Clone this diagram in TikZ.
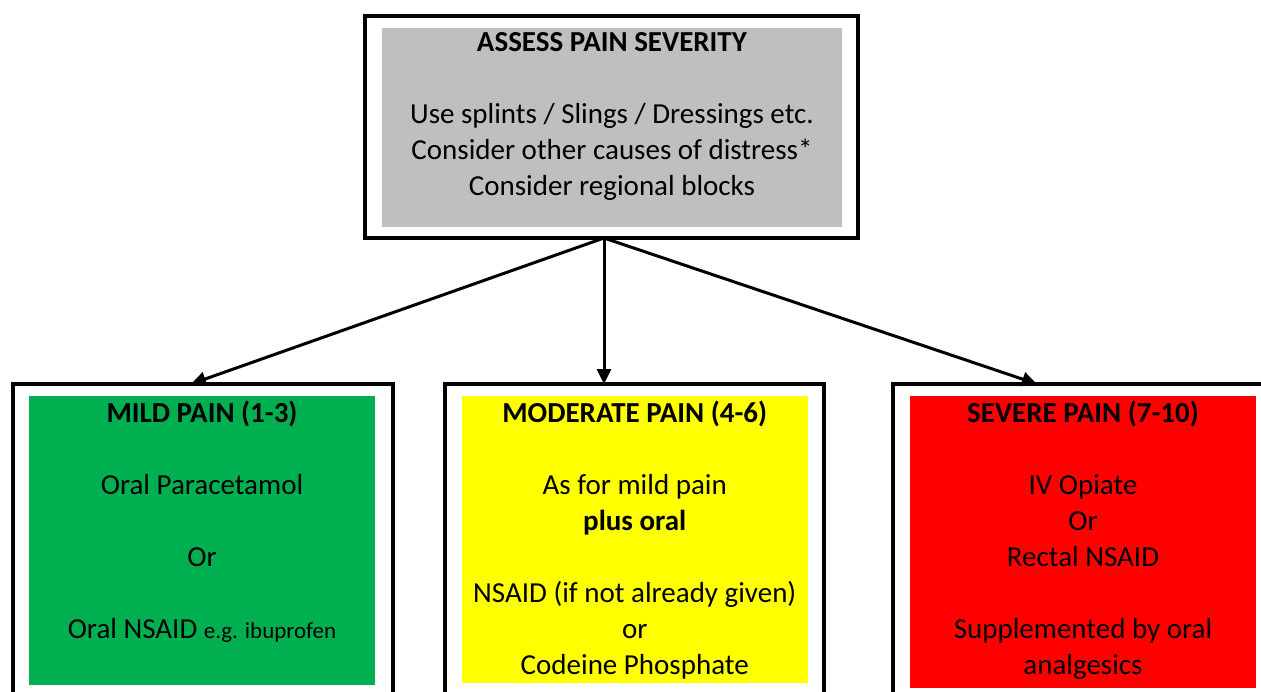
\documentclass[tikz,border=0pt]{standalone}
\usepackage{fontspec}
\setmainfont{Carlito}
\usetikzlibrary{arrows.meta}
\definecolor{boxgray}{RGB}{191,191,191}
\definecolor{mildgreen}{RGB}{0,176,80}
\definecolor{modyellow}{RGB}{255,255,0}
\definecolor{sevred}{RGB}{255,0,0}
\begin{document}
\begin{tikzpicture}[x=1pt,y=-1pt,
  outerbox/.style={draw=black,line width=4pt,fill=white,inner sep=0pt,outer sep=0pt},
  innerbox/.style={inner sep=0pt,outer sep=0pt,anchor=north west},
  txt/.style={align=center,inner sep=0pt,anchor=base,font=\fontsize{29}{36}\selectfont},
  conn/.style={line width=3pt,-{Triangle[length=15pt,width=14pt]}},
]
\clip (0,0) rectangle (1261,691);
\fill[white] (0,0) rectangle (1261,691);

% boxes
\node[outerbox,minimum width=493pt,minimum height=222pt] (assess) at (611.5,127) {};
\node[innerbox,fill=boxgray,minimum width=460pt,minimum height=198.7pt] (assessin) at (382,28) {};

\node[outerbox,minimum width=380pt,minimum height=314pt] (mild) at (202.7,541) {};
\node[innerbox,fill=mildgreen,minimum width=346pt,minimum height=289pt] (mildin) at (29,396) {};

\node[outerbox,minimum width=379.3pt,minimum height=314pt] (moderate) at (634.35,541) {};
\node[innerbox,fill=modyellow,minimum width=345.5pt,minimum height=287pt] (moderatein) at (462,396) {};

\node[outerbox,minimum width=380pt,minimum height=314pt] (severe) at (1082.7,541) {};
\node[innerbox,fill=sevred,minimum width=346pt,minimum height=292pt] (severein) at (910,396) {};

% texts (anchor base = baseline of the last line)
\node[txt] (assesstxt) at (612,195.5) {\textbf{ASSESS PAIN SEVERITY}\\[36pt]Use splints / Slings / Dressings etc.\\Consider other causes of distress*\\Consider regional blocks};
\node[txt] (mildtxt) at (202,638.5) {\textbf{MILD PAIN (1-3)}\\[36pt]Oral Paracetamol\\[36pt]Or\\[36pt]Oral NSAID {\fontsize{23}{36}\selectfont e.g. ibuprofen}};
\node[txt] (moderatetxt) at (634.75,674.3) {\textbf{MODERATE PAIN (4-6)}\\[36pt]As for mild pain\\\textbf{plus oral}\\[36pt]NSAID (if not already given)\\or\\Codeine Phosphate};
\node[txt] (severetxt) at (1083,674.3) {\textbf{SEVERE PAIN (7-10)}\\[36pt]IV Opiate\\Or\\Rectal NSAID\\[36pt]Supplemented by oral\\analgesics};

% connectors
\coordinate (src) at (604,238);
\coordinate (tipL) at (191,384);
\coordinate (tipM) at (604,384);
\coordinate (tipR) at (1037,384);
\draw[conn] (src) -- (tipL);
\draw[conn] (src) -- (tipM);
\draw[conn] (src) -- (tipR);
\end{tikzpicture}
\end{document}
